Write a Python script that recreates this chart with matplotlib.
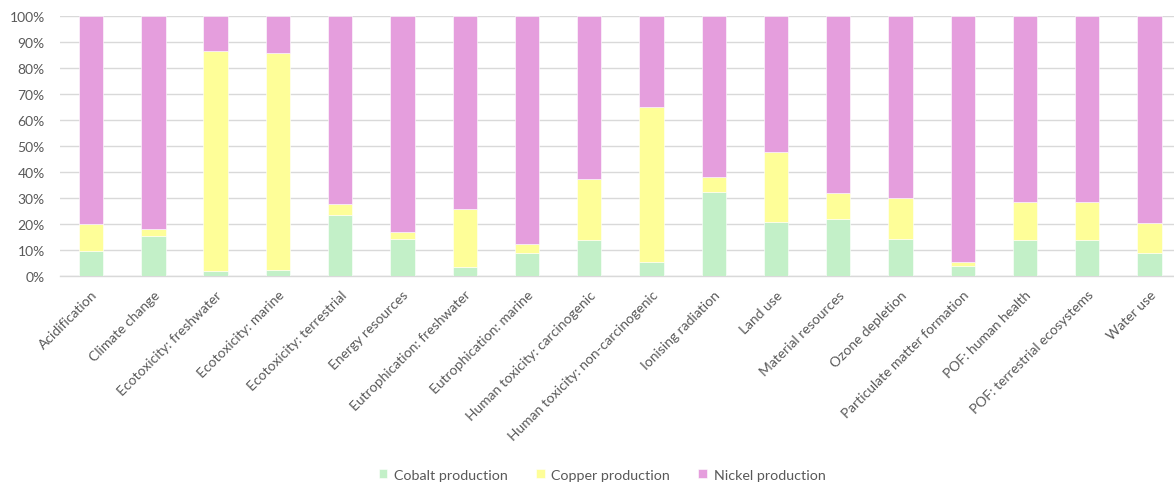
import matplotlib
matplotlib.use("Agg")
import matplotlib.pyplot as plt
import numpy as np
from matplotlib.ticker import PercentFormatter, MultipleLocator

categories = [
    "Acidification", "Climate change", "Ecotoxicity: freshwater", "Ecotoxicity: marine",
    "Ecotoxicity: terrestrial", "Energy resources", "Eutrophication: freshwater",
    "Eutrophication: marine", "Human toxicity: carcinogenic",
    "Human toxicity: non-carcinogenic", "Ionising radiation", "Land use",
    "Material resources", "Ozone depletion", "Particulate matter formation",
    "POF: human health", "POF: terrestrial ecosystems", "Water use",
]
cobalt = [9.4, 15.2, 1.8, 2.3, 23.5, 14.3, 3.2, 8.9, 13.9, 5.3, 32.4, 20.8, 21.9, 14.3, 3.7, 13.9, 13.9, 8.9]
copper = [10.4, 2.9, 84.9, 83.5, 4.0, 2.5, 22.5, 3.4, 23.3, 59.9, 5.6, 27.0, 10.1, 15.8, 1.6, 14.5, 14.5, 11.5]
nickel = [100 - a - b for a, b in zip(cobalt, copper)]

series_names = ["Cobalt production", "Copper production", "Nickel production"]
colors = ["#C3F0C8", "#FEFE98", "#E59EDD"]

plt.rcParams["font.family"] = ["Lato", "DejaVu Sans"]
text_color = "#595959"
grid_color = "#D9D9D9"

fig = plt.figure(figsize=(11.74, 4.85), dpi=100)
ax = fig.add_axes([60 / 1174, 1 - 276.7 / 485, 1120.6 / 1174, 259.4 / 485])

x = np.arange(len(categories))
width = 0.39
bottom = np.zeros(len(categories))
for vals, name, col in zip([cobalt, copper, nickel], series_names, colors):
    ax.bar(x, vals, width, bottom=bottom, color=col, label=name, zorder=3,
           edgecolor="white", linewidth=0.4)
    bottom += np.array(vals)

ax.set_xlim(-0.5, len(categories) - 0.5)
ax.set_ylim(0, 100)
ax.yaxis.set_major_locator(MultipleLocator(10))
ax.yaxis.set_major_formatter(PercentFormatter(decimals=0))
ax.grid(axis="y", color=grid_color, linewidth=1.0, zorder=0)
for s in ["top", "right", "left"]:
    ax.spines[s].set_visible(False)
ax.spines["bottom"].set_color(grid_color)
ax.spines["bottom"].set_linewidth(1.0)
ax.tick_params(axis="both", length=0, colors=text_color, labelsize=10)
ax.tick_params(axis="y", pad=11)
ax.set_xticks(x)
ax.set_xticklabels(categories, rotation=45, ha="right", rotation_mode="anchor")
ax.tick_params(axis="x", pad=9)

handles, labels = ax.get_legend_handles_labels()
fig.legend(handles, labels, loc="center", bbox_to_anchor=(602 / 1174, 1 - 476 / 485),
           ncol=3, frameon=False, fontsize=10.3, labelcolor=text_color,
           handlelength=0.6, handleheight=0.6, handletextpad=0.45, columnspacing=2.0)

fig.savefig("out.png", dpi=100, facecolor="white")
